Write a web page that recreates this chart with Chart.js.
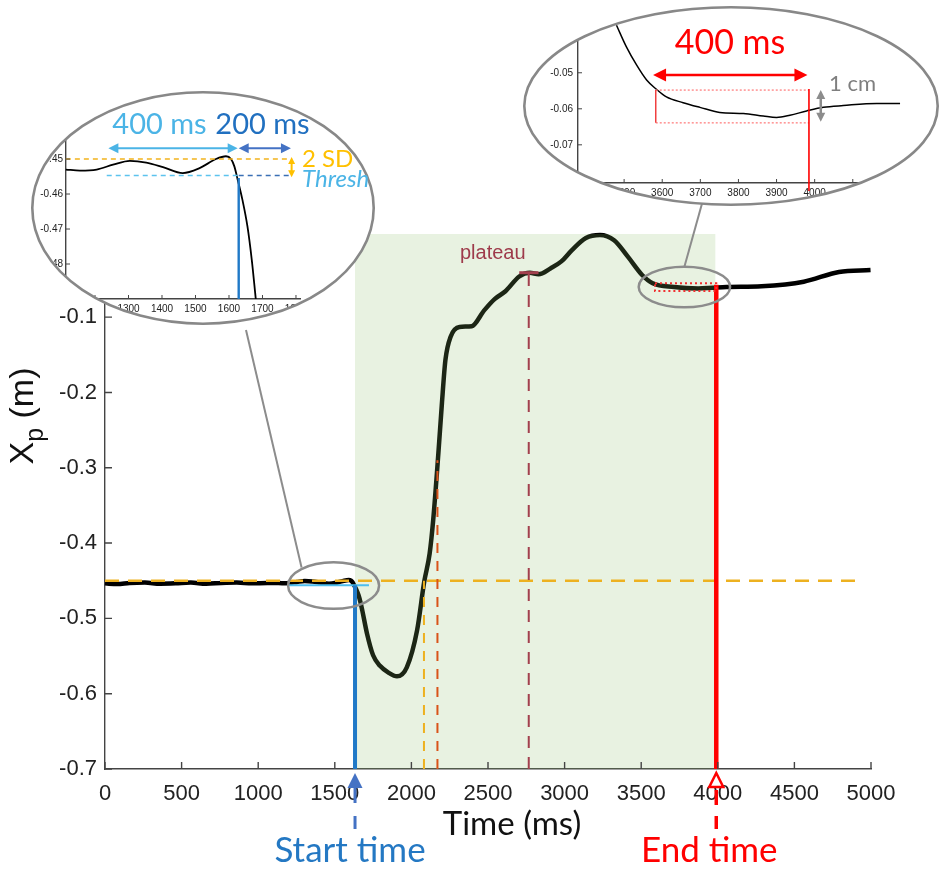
<!DOCTYPE html>
<html>
<head>
<meta charset="utf-8">
<script src="https://cdn.jsdelivr.net/npm/chart.js@4.4.1/dist/chart.umd.min.js"></script>
<style>
  html, body { margin: 0; padding: 0; background: #fff; }
  #wrap { position: relative; width: 950px; height: 872px; overflow: hidden; }
  #wrap canvas { position: absolute; }
</style>
</head>
<body>
<div id="wrap">
  <canvas id="main" width="950" height="872" style="left:0;top:0"></canvas>
  <canvas id="startZoom" width="344" height="234" style="left:31px;top:91px"></canvas>
  <canvas id="endZoom" width="416" height="200" style="left:523px;top:6px"></canvas>
</div>
<script>
// main trace: hand position over time
const timeMs = [0, 80, 160, 260, 360, 460, 560, 660, 760, 860, 960, 1060,
  1113, 1155, 1205, 1254, 1304, 1353, 1403, 1462, 1512, 1561, 1591, 1606, 1616, 1626,
  1640, 1655, 1668, 1680, 1710, 1750, 1795, 1850, 1906, 1970, 2037, 2084, 2119, 2142,
  2176, 2199, 2222, 2256, 2314, 2394, 2475, 2543, 2612, 2704, 2773, 2830, 2910, 2979,
  3048, 3139, 3231, 3323, 3414, 3506, 3575, 3713, 3873, 3965, 4057, 4286, 4561, 4791, 4997];
const posM = [-0.4535, -0.4545, -0.4530, -0.4525, -0.4540, -0.4535, -0.4525, -0.4540, -0.4530, -0.4525, -0.4535, -0.4530,
  -0.4530, -0.4533, -0.4530, -0.4516, -0.4505, -0.4510, -0.4523, -0.4540, -0.4526, -0.4500, -0.4492, -0.4500, -0.4521, -0.4559,
  -0.4616, -0.4692, -0.4788, -0.490, -0.520, -0.549, -0.563, -0.572, -0.577, -0.565, -0.516, -0.451, -0.414, -0.370,
  -0.281, -0.215, -0.157, -0.126, -0.113, -0.112, -0.091, -0.076, -0.066, -0.046, -0.041, -0.043, -0.035, -0.026,
  -0.011, 0.005, 0.009, 0.002, -0.020, -0.044, -0.055, -0.060, -0.062, -0.061, -0.060, -0.059, -0.053, -0.040, -0.0375];

// zoomed trace around movement onset
const startZoomT = [1113, 1155, 1205, 1254, 1304, 1353, 1403, 1462, 1512, 1561, 1591, 1606, 1616, 1626, 1640, 1655, 1668, 1680];
const startZoomX = [-0.4530, -0.4533, -0.4530, -0.4516, -0.4505, -0.4510, -0.4523, -0.4540, -0.4526, -0.4500, -0.4492, -0.4500,
  -0.4521, -0.4559, -0.4616, -0.4692, -0.4788, -0.490];

// zoomed trace around movement end
const endZoomT = [3480, 3506, 3533, 3559, 3585, 3611, 3655, 3699, 3751, 3813, 3865, 3900, 3935, 3979, 4023, 4075, 4163, 4224];
const endZoomX = [-0.0368, -0.0428, -0.0479, -0.0520, -0.0546, -0.0567, -0.0583, -0.0596, -0.0610, -0.0613, -0.0620, -0.0624,
  -0.0618, -0.0606, -0.0596, -0.0591, -0.0585, -0.0585];

// tick labels
const mainXTicks = [0, 500, 1000, 1500, 2000, 2500, 3000, 3500, 4000, 4500, 5000];
const mainYTicks = [-0.7, -0.6, -0.5, -0.4, -0.3, -0.2, -0.1];
const startXTicks = [1200, 1300, 1400, 1500, 1600, 1700, 1800];
const startYTicks = [-0.48, -0.47, -0.46, -0.45];
const endXTicks = [3500, 3600, 3700, 3800, 3900, 4000, 4100];
const endYTicks = [-0.07, -0.06, -0.05];

// events
const startTime = 1632, endTime = 3990;
const baseLevel = -0.45, threshLevel = -0.456;
const crossTime = 2082, halfTime = 2170, halfLevel = -0.29;
const plateauTime = 2766, plateauLevel = -0.041;
const endWin = [3590, 3990], endBand = [-0.055, -0.0654];

const ARIAL = "'Liberation Sans', Arial, sans-serif";
const CALIBRI = "Lato, 'Open Sans', sans-serif";

function seg(ctx, x0, y0, x1, y1, color, w, dash) {
  ctx.save();
  ctx.strokeStyle = color; ctx.lineWidth = w; ctx.setLineDash(dash || []);
  ctx.beginPath(); ctx.moveTo(x0, y0); ctx.lineTo(x1, y1); ctx.stroke();
  ctx.restore();
}
function head(ctx, x, y, ang, size, color) {
  ctx.save();
  ctx.fillStyle = color;
  const c = Math.cos(ang), s = Math.sin(ang), hw = size * 0.5;
  ctx.beginPath();
  ctx.moveTo(x, y);
  ctx.lineTo(x - size * c + hw * s, y - size * s - hw * c);
  ctx.lineTo(x - size * c - hw * s, y - size * s + hw * c);
  ctx.closePath(); ctx.fill();
  ctx.restore();
}
function dblArrow(ctx, x0, y0, x1, y1, color, w, size) {
  const ang = Math.atan2(y1 - y0, x1 - x0), c = Math.cos(ang), s = Math.sin(ang);
  seg(ctx, x0 + c * size * 0.7, y0 + s * size * 0.7, x1 - c * size * 0.7, y1 - s * size * 0.7, color, w);
  head(ctx, x1, y1, ang, size, color);
  head(ctx, x0, y0, ang + Math.PI, size, color);
}
function txt(ctx, s, x, y, font, color, align) {
  ctx.save();
  ctx.font = font; ctx.fillStyle = color; ctx.textAlign = align || 'center'; ctx.textBaseline = 'alphabetic';
  ctx.fillText(s, x, y);
  ctx.restore();
}

// MATLAB-style ticks pointing into the axes
const innerTicks = {
  id: 'innerTicks',
  afterDraw(chart, args, opts) {
    const { ctx, chartArea: a, scales: { x, y } } = chart;
    ctx.save();
    ctx.strokeStyle = opts.color; ctx.lineWidth = opts.width;
    ctx.beginPath();
    x.ticks.forEach(t => { const p = x.getPixelForValue(t.value); ctx.moveTo(p, a.bottom); ctx.lineTo(p, a.bottom - opts.len); });
    y.ticks.forEach(t => { const p = y.getPixelForValue(t.value); ctx.moveTo(a.left, p); ctx.lineTo(a.left + opts.len, p); });
    ctx.stroke();
    ctx.restore();
  }
};

// magnifier: white elliptical lens, contents clipped, grey rim
const lens = {
  id: 'lens',
  beforeDraw(chart) {
    const { ctx, width, height } = chart;
    ctx.save();
    ctx.beginPath();
    ctx.ellipse(width / 2, height / 2, width / 2 - 1.3, height / 2 - 1.3, 0, 0, Math.PI * 2);
    ctx.fillStyle = '#fff';
    ctx.fill();
    ctx.clip();
  },
  afterDraw(chart) {
    const { ctx, width, height } = chart;
    ctx.restore();
    ctx.save();
    ctx.strokeStyle = '#888'; ctx.lineWidth = 2.6;
    ctx.beginPath();
    ctx.ellipse(width / 2, height / 2, width / 2 - 1.3, height / 2 - 1.3, 0, 0, Math.PI * 2);
    ctx.stroke();
    ctx.restore();
  }
};

const mainMarks = {
  id: 'mainMarks',
  afterDatasetsDraw(chart) {
    const { ctx, scales: { x, y } } = chart;
    const X = t => x.getPixelForValue(t), Y = v => y.getPixelForValue(v);
    // movement window
    ctx.save();
    ctx.fillStyle = 'rgba(140,190,105,0.2)';
    ctx.fillRect(X(startTime), Y(y.max), X(endTime - 6) - X(startTime), Y(y.min) - Y(y.max));
    ctx.restore();

    seg(ctx, X(0), Y(baseLevel), X(4950), Y(baseLevel), '#EDB120', 2.5, [14, 9]);
    seg(ctx, X(1200), Y(threshLevel), X(1723), Y(threshLevel), '#4DBEEE', 2);
    seg(ctx, X(crossTime), Y(-0.7), X(crossTime), Y(baseLevel), '#EDB120', 2, [10, 8]);
    seg(ctx, X(halfTime), Y(-0.7), X(halfTime), Y(halfLevel), '#D95319', 2, [10, 8]);
    seg(ctx, X(plateauTime), Y(-0.7), X(plateauTime), Y(plateauLevel), '#A2404E', 2, [12, 9]);
    seg(ctx, X(2704), Y(plateauLevel), X(2830), Y(plateauLevel), '#A2404E', 3);
    txt(ctx, 'plateau', X(plateauTime) - 36, Y(plateauLevel) - 14, '20px ' + ARIAL, '#9E3B4B');

    seg(ctx, X(startTime), Y(-0.7), X(startTime), Y(threshLevel), '#2079C7', 4);
    seg(ctx, X(endTime), Y(-0.7), X(endTime), Y(-0.057), '#FF0000', 4.5);

    // settling band
    ctx.save();
    ctx.strokeStyle = '#F03030'; ctx.lineWidth = 2; ctx.setLineDash([2, 3]);
    ctx.strokeRect(X(endWin[0]), Y(endBand[0]), X(endWin[1]) - X(endWin[0]), Y(endBand[1]) - Y(endBand[0]));
    ctx.restore();
  },
  afterDraw(chart) {
    const { ctx, scales: { x, y } } = chart;
    const X = t => x.getPixelForValue(t), Y = v => y.getPixelForValue(v);
    ctx.save();
    ctx.strokeStyle = '#8C8C8C'; ctx.lineWidth = 2.5;
    const sx = X(1492), sy = Y(-0.4564), ex = X(3782), ey = Y(-0.060);
    ctx.beginPath(); ctx.ellipse(sx, sy, 45.5, 23.3, 0, 0, Math.PI * 2); ctx.stroke();
    ctx.beginPath(); ctx.ellipse(ex, ey, 45.7, 20.3, 0, 0, Math.PI * 2); ctx.stroke();
    ctx.restore();
    seg(ctx, sx - 32, sy - 18, 246, 330, '#8C8C8C', 2);
    seg(ctx, ex, ey - 20.3, 703, 200, '#8C8C8C', 2);

    // axis titles
    txt(ctx, 'Time (ms)', 512, 835, '33px ' + CALIBRI, '#111');
    ctx.save();
    ctx.translate(33, 416);
    ctx.rotate(-Math.PI / 2);
    ctx.fillStyle = '#111';
    ctx.textBaseline = 'alphabetic'; ctx.textAlign = 'left';
    const big = '34px ' + ARIAL, small = '25px ' + ARIAL;
    ctx.font = big; const wX = ctx.measureText('X').width, wM = ctx.measureText(' (m)').width;
    ctx.font = small; const wP = ctx.measureText('p').width;
    let cx = -(wX + wP + wM) / 2;
    ctx.font = big; ctx.fillText('X', cx, 0); cx += wX;
    ctx.font = small; ctx.fillText('p', cx, 10); cx += wP;
    ctx.font = big; ctx.fillText(' (m)', cx, 0);
    ctx.restore();

    // start / end markers under the axis
    const bx = X(startTime), rx = X(endTime);
    seg(ctx, bx, 787, bx, 803, '#4472C4', 3);
    seg(ctx, bx, 816, bx, 829, '#4472C4', 3);
    head(ctx, bx, 773, -Math.PI / 2, 15, '#4472C4');
    seg(ctx, rx, 790, rx, 805, '#FF0000', 3.5);
    seg(ctx, rx, 816, rx, 829, '#FF0000', 3.5);
    ctx.save();
    ctx.fillStyle = '#fff'; ctx.strokeStyle = '#FF0000'; ctx.lineWidth = 2.5;
    ctx.beginPath(); ctx.moveTo(rx, 773); ctx.lineTo(rx - 7, 787); ctx.lineTo(rx + 7, 787); ctx.closePath();
    ctx.fill(); ctx.stroke();
    ctx.restore();
    txt(ctx, 'Start time', bx - 5, 862, '35px ' + CALIBRI, '#2478C3');
    txt(ctx, 'End time', rx - 7, 862, '35px ' + CALIBRI, '#FF0000');
  }
};

const startMarks = {
  id: 'startMarks',
  afterDatasetsDraw(chart) {
    const { ctx, scales: { x, y } } = chart;
    const X = t => x.getPixelForValue(t), Y = v => y.getPixelForValue(v);
    seg(ctx, X(1113), Y(-0.45), X(1782), Y(-0.45), '#F2B31C', 1.6, [5, 4]);
    seg(ctx, X(1235), Y(-0.4547), X(1629), Y(-0.4547), '#5CC3EE', 1.6, [5, 4]);
    seg(ctx, X(1629), Y(-0.4547), X(1782), Y(-0.4547), '#3A6FB5', 1.6, [5, 4]);
    seg(ctx, X(1629), Y(-0.4554), X(1629), Y(-0.49), '#2079C7', 2.4);
    dblArrow(ctx, X(1240), Y(-0.4469), X(1626), Y(-0.4469), '#4BB4E6', 2, 10);
    dblArrow(ctx, X(1629), Y(-0.4469), X(1785), Y(-0.4469), '#4472C4', 2, 10);
    dblArrow(ctx, X(1787), Y(-0.4494), X(1787), Y(-0.4552), '#FFC000', 2, 7);
  }
};
// labels that sit on the lens rim, drawn after the clip is released
const startLabels = {
  id: 'startLabels',
  afterDraw(chart) {
    const ctx = chart.ctx;
    txt(ctx, '400 ms', 128.5, 43, '29px ' + CALIBRI, '#4BB4E6');
    txt(ctx, '200 ms', 231.5, 43, '29px ' + CALIBRI, '#2170C0');
    txt(ctx, '2 SD', 271, 76, '24px ' + CALIBRI, '#FFC000', 'left');
    txt(ctx, 'Thresh', 271, 96, 'italic 24px ' + CALIBRI, '#4BB4E6', 'left');
  }
};

const endMarks = {
  id: 'endMarks',
  afterDatasetsDraw(chart) {
    const { ctx, scales: { x, y } } = chart;
    const X = t => x.getPixelForValue(t), Y = v => y.getPixelForValue(v);
    seg(ctx, X(3583), Y(-0.0548), X(3985), Y(-0.0548), '#FF8080', 1.3, [2, 2]);
    seg(ctx, X(3583), Y(-0.0639), X(3985), Y(-0.0639), '#FF8080', 1.3, [2, 2]);
    seg(ctx, X(3583), Y(-0.0548), X(3583), Y(-0.0639), '#F04040', 1.5);
    seg(ctx, X(3985), Y(-0.0545), X(3985), Y(-0.0806) + 8, '#FF0000', 1.6);
    dblArrow(ctx, X(3576), Y(-0.0506), X(3981), Y(-0.0506), '#FF0000', 2.5, 13);
    dblArrow(ctx, X(4016), Y(-0.0548), X(4016), Y(-0.0636), '#8C8C8C', 2.5, 9);
    txt(ctx, '400 ms', 207, 48, '34px ' + CALIBRI, '#FF0000');
    txt(ctx, '1 cm', 306, 85, '22px ' + CALIBRI, '#7F7F7F', 'left');
  }
};

function pts(ts, vs) { return ts.map((t, i) => ({ x: t, y: vs[i] })); }

function axis(min, max, ticks, fmt, fontSize, pad, fitFn) {
  return {
    type: 'linear', min, max,
    afterBuildTicks: s => { s.ticks = ticks.map(v => ({ value: v })); },
    afterFit: fitFn,
    grid: { display: false, drawTicks: false },
    border: { display: true, color: '#444', width: 1.4 },
    ticks: { autoSkip: false, maxRotation: 0, padding: pad, color: '#222',
      font: { family: ARIAL, size: fontSize }, callback: fmt }
  };
}

new Chart(document.getElementById('main'), {
  type: 'line',
  data: { datasets: [{ data: pts(timeMs, posM), borderColor: '#000', borderWidth: 4.5,
    pointRadius: 0, cubicInterpolationMode: 'monotone', clip: false }] },
  options: {
    responsive: false, animation: false,
    layout: { padding: { left: 0, top: 234, right: 79, bottom: 0 } },
    plugins: { legend: { display: false }, tooltip: { enabled: false },
      innerTicks: { len: 7, color: '#444', width: 1.4 } },
    scales: {
      x: axis(0, 5000, mainXTicks, v => String(v), 22, 12, s => { s.height = 103; }),
      y: axis(-0.7, 0.0104, mainYTicks, v => v.toFixed(1), 22, 8, s => { s.width = 105; })
    }
  },
  plugins: [mainMarks, innerTicks]
});

new Chart(document.getElementById('startZoom'), {
  type: 'line',
  data: { datasets: [{ data: pts(startZoomT, startZoomX), borderColor: '#000', borderWidth: 1.8,
    pointRadius: 0, cubicInterpolationMode: 'monotone', clip: false }] },
  options: {
    responsive: false, animation: false,
    layout: { padding: { left: 0, top: 39, right: 75, bottom: 0 } },
    plugins: { legend: { display: false }, tooltip: { enabled: false },
      innerTicks: { len: 4, color: '#444', width: 1 } },
    scales: {
      x: axis(1113.4, 1812, startXTicks, v => String(v), 10, 4, s => { s.height = 26; }),
      y: axis(-0.49, -0.4417, startYTicks, v => v.toFixed(2), 10, 3, s => { s.width = 35; })
    }
  },
  plugins: [startMarks, innerTicks, lens, startLabels]
});

new Chart(document.getElementById('endZoom'), {
  type: 'line',
  data: { datasets: [{ data: pts(endZoomT, endZoomX), borderColor: '#000', borderWidth: 1.5,
    pointRadius: 0, cubicInterpolationMode: 'monotone', clip: false }] },
  options: {
    responsive: false, animation: false,
    layout: { padding: { left: 0, top: 34, right: 1, bottom: 0 } },
    plugins: { legend: { display: false }, tooltip: { enabled: false },
      innerTicks: { len: 4, color: '#444', width: 1 } },
    scales: {
      x: axis(3379, 4323.6, endXTicks, v => String(v), 10, 4, s => { s.height = 23; }),
      y: axis(-0.0806, -0.0409, endYTicks, v => v.toFixed(2), 10, 5, s => { s.width = 55; })
    }
  },
  plugins: [endMarks, innerTicks, lens]
});
</script>
</body>
</html>
